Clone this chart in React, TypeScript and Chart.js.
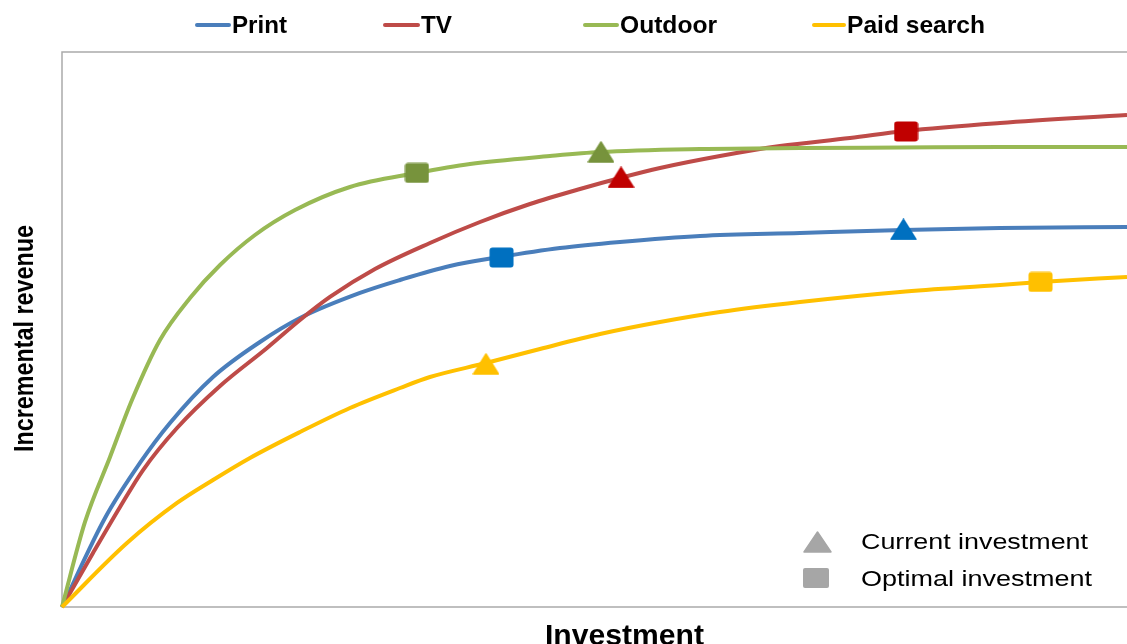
import React, { useEffect, useRef } from "react";
import { Chart, registerables } from "chart.js";

Chart.register(...registerables);

// ---- data (investment % of range, incremental revenue % of range) ----
const seriesNames = ["Print", "TV", "Outdoor", "Paid search"];
const lineColors = ["#4A7EBB", "#BE4B48", "#98B954", "#FFC000"];
const markerColors = ["#0070C0", "#C00000", "#77933C", "#FFC000"];

const printInvest = [0, 4.04, 7.32, 10.14, 14.18, 18.59, 22.35, 27.98, 31.74, 36.43, 41.13, 46.76, 52.39, 59.91, 69.3, 78.97, 88.08, 100];
const printRevenue = [0, 16.04, 25.95, 33.15, 41.44, 47.75, 52.07, 56.58, 58.92, 61.44, 63.06, 64.68, 65.77, 66.85, 67.39, 67.93, 68.29, 68.47];

const tvInvest = [0, 2.91, 5.45, 7.61, 10.8, 14.84, 19.25, 22.35, 25.16, 29.39, 34.55, 39.25, 43.94, 48.64, 52.39, 56.15, 61.78, 67.42, 73.99, 79.15, 88.08, 100];
const tvRevenue = [0, 9.73, 18.02, 24.68, 32.25, 39.82, 46.67, 51.71, 55.86, 60.9, 65.59, 69.37, 72.61, 75.32, 77.3, 79.1, 81.26, 83.06, 84.5, 85.77, 87.21, 88.65];

const outdoorInvest = [0, 2.16, 4.51, 6.57, 9.2, 12.02, 14.84, 18.12, 21.88, 27.04, 33.33, 38.31, 45.82, 50.52, 59.91, 69.3, 78.69, 88.08, 100];
const outdoorRevenue = [0, 15.32, 27.03, 37.3, 48.11, 55.68, 61.62, 67.03, 71.53, 75.68, 78.2, 79.82, 81.26, 81.98, 82.52, 82.7, 82.79, 82.88, 82.88];

const paidInvest = [0, 6.1, 10.8, 14.18, 17.65, 22.35, 27.04, 31.74, 34.55, 39.81, 44.88, 50.52, 56.15, 61.78, 69.3, 78.69, 88.08, 91.83, 100];
const paidRevenue = [0, 11.53, 18.74, 22.88, 26.85, 31.53, 35.86, 39.46, 41.44, 43.96, 46.49, 49.19, 51.35, 53.15, 54.95, 56.76, 58.02, 58.56, 59.46];

// order: Print, TV, Outdoor, Paid search
const currentInvest = [79.01, 52.49, 50.61, 39.81];
const currentRevenue = [68.02, 77.39, 81.98, 43.78];
const optimalInvest = [41.27, 79.25, 33.33, 91.88];
const optimalRevenue = [62.97, 85.68, 78.2, 58.56];

const xTitle = "Investment";
const yTitle = "Incremental revenue";
const currentLabel = "Current investment";
const optimalLabel = "Optimal investment";

// ---- helpers ----
function toPoints(xs: number[], ys: number[]) {
  return xs.map((x, i) => ({ x, y: ys[i] }));
}

function triPath(ctx: CanvasRenderingContext2D, x: number, y: number, w: number, h: number) {
  ctx.beginPath();
  ctx.moveTo(x + w / 2, y);
  ctx.lineTo(x + w, y + h);
  ctx.lineTo(x, y + h);
  ctx.closePath();
}

function rrPath(ctx: CanvasRenderingContext2D, x: number, y: number, w: number, h: number, r: number) {
  ctx.beginPath();
  ctx.moveTo(x + r, y);
  ctx.lineTo(x + w - r, y);
  ctx.arcTo(x + w, y, x + w, y + r, r);
  ctx.lineTo(x + w, y + h - r);
  ctx.arcTo(x + w, y + h, x + w - r, y + h, r);
  ctx.lineTo(x + r, y + h);
  ctx.arcTo(x, y + h, x, y + h - r, r);
  ctx.lineTo(x, y + r);
  ctx.arcTo(x, y, x + r, y, r);
  ctx.closePath();
}

function makeTriangle(color: string) {
  const c = document.createElement("canvas");
  c.width = 27;
  c.height = 22;
  const ctx = c.getContext("2d")!;
  ctx.fillStyle = color;
  ctx.strokeStyle = color;
  ctx.lineWidth = 1.5;
  ctx.lineJoin = "round";
  triPath(ctx, 1, 1, 25, 20);
  ctx.fill();
  ctx.stroke();
  return c;
}

function makeSquare(color: string) {
  const c = document.createElement("canvas");
  c.width = 25;
  c.height = 21;
  const ctx = c.getContext("2d")!;
  ctx.fillStyle = color;
  rrPath(ctx, 0.5, 0.5, 24, 20, 3);
  ctx.fill();
  return c;
}

function fitText(
  ctx: CanvasRenderingContext2D,
  text: string,
  font: string,
  x: number,
  baseline: number,
  width: number,
  rotate = false
) {
  ctx.save();
  ctx.font = font;
  ctx.fillStyle = "#000";
  ctx.textAlign = "left";
  ctx.textBaseline = "alphabetic";
  const w = ctx.measureText(text).width;
  ctx.translate(x, baseline);
  if (rotate) ctx.rotate(-Math.PI / 2);
  ctx.scale(width / w, 1);
  ctx.fillText(text, 0, 0);
  ctx.restore();
}

// legend layout (pixel positions of the top legend items)
const legendLineStart = [195, 383, 583, 812];
const legendTextStart = [232, 421, 620, 847];
const legendTextEnd = [287, 452, 717, 985];

const decorPlugin = {
  id: "decor",
  beforeDatasetsDraw(chart: any) {
    const { ctx, chartArea } = chart;
    const { left, top, right, bottom } = chartArea;
    ctx.save();
    ctx.strokeStyle = "#ABABAB";
    ctx.lineWidth = 1.5;
    ctx.beginPath();
    ctx.moveTo(right + 5, top);
    ctx.lineTo(left, top);
    ctx.lineTo(left, bottom);
    ctx.lineTo(right + 5, bottom);
    ctx.stroke();
    ctx.restore();
  },
  afterDraw(chart: any) {
    const { ctx } = chart;
    // top legend
    for (let i = 0; i < seriesNames.length; i++) {
      ctx.save();
      ctx.strokeStyle = lineColors[i];
      ctx.lineWidth = 4;
      ctx.lineCap = "round";
      ctx.beginPath();
      ctx.moveTo(legendLineStart[i] + 2, 25);
      ctx.lineTo(legendTextStart[i] - 3, 25);
      ctx.stroke();
      ctx.restore();
      fitText(
        ctx,
        seriesNames[i],
        "bold 24px 'Liberation Sans', Arial, sans-serif",
        legendTextStart[i],
        33,
        legendTextEnd[i] - legendTextStart[i]
      );
    }
    // inner legend
    ctx.save();
    ctx.fillStyle = "#A6A6A6";
    ctx.strokeStyle = "#A6A6A6";
    ctx.lineJoin = "round";
    ctx.lineWidth = 1.5;
    triPath(ctx, 804, 532, 27, 20);
    ctx.fill();
    ctx.stroke();
    rrPath(ctx, 803, 568, 26, 20, 2);
    ctx.fill();
    ctx.restore();
    fitText(ctx, currentLabel, "22px 'Liberation Sans', Arial, sans-serif", 861, 549, 227);
    fitText(ctx, optimalLabel, "22px 'Liberation Sans', Arial, sans-serif", 861, 586, 231);
    // axis titles
    fitText(ctx, yTitle, "bold 27px 'Liberation Sans', Arial, sans-serif", 33, 452, 227, true);
    fitText(ctx, xTitle, "bold 29px 'Liberation Sans', Arial, sans-serif", 545, 645, 159);
  },
};

export default function App() {
  const ref = useRef<HTMLCanvasElement | null>(null);

  useEffect(() => {
    if (!ref.current) return;
    const triImgs = markerColors.map(makeTriangle);
    const sqImgs = markerColors.map(makeSquare);
    const curves = [
      toPoints(printInvest, printRevenue),
      toPoints(tvInvest, tvRevenue),
      toPoints(outdoorInvest, outdoorRevenue),
      toPoints(paidInvest, paidRevenue),
    ];
    const lineDatasets = curves.map((pts, i) => ({
      label: seriesNames[i],
      data: pts,
      showLine: true,
      borderColor: lineColors[i],
      backgroundColor: lineColors[i],
      borderWidth: 4,
      pointRadius: 0,
      cubicInterpolationMode: "monotone" as const,
      fill: false,
      order: 10 - i,
      clip: 4,
    }));
    const chart = new Chart(ref.current, {
      type: "scatter",
      data: {
        datasets: [
          ...lineDatasets,
          {
            label: currentLabel,
            data: toPoints(currentInvest, currentRevenue),
            showLine: false,
            pointStyle: triImgs as any,
            pointRadius: 10,
            order: 0,
            clip: false,
          } as any,
          {
            label: optimalLabel,
            data: toPoints(optimalInvest, optimalRevenue),
            showLine: false,
            pointStyle: sqImgs as any,
            pointRadius: 10,
            order: 0,
            clip: false,
          } as any,
        ],
      },
      options: {
        animation: false,
        responsive: false,
        devicePixelRatio: 1,
        layout: { autoPadding: false, padding: { left: 62, top: 52, right: 0, bottom: 37 } },
        plugins: {
          legend: { display: false },
          tooltip: { enabled: false },
        },
        events: [],
        scales: {
          x: { type: "linear", min: 0, max: 100, display: false },
          y: { type: "linear", min: 0, max: 100, display: false },
        },
      },
      plugins: [decorPlugin],
    });
    return () => chart.destroy();
  }, []);

  return (
    <div style={{ position: "fixed", left: 0, top: 0, width: 1127, height: 644, background: "#fff", overflow: "hidden" }}>
      <canvas ref={ref} width={1127} height={644} style={{ display: "block", width: 1127, height: 644 }} />
    </div>
  );
}
